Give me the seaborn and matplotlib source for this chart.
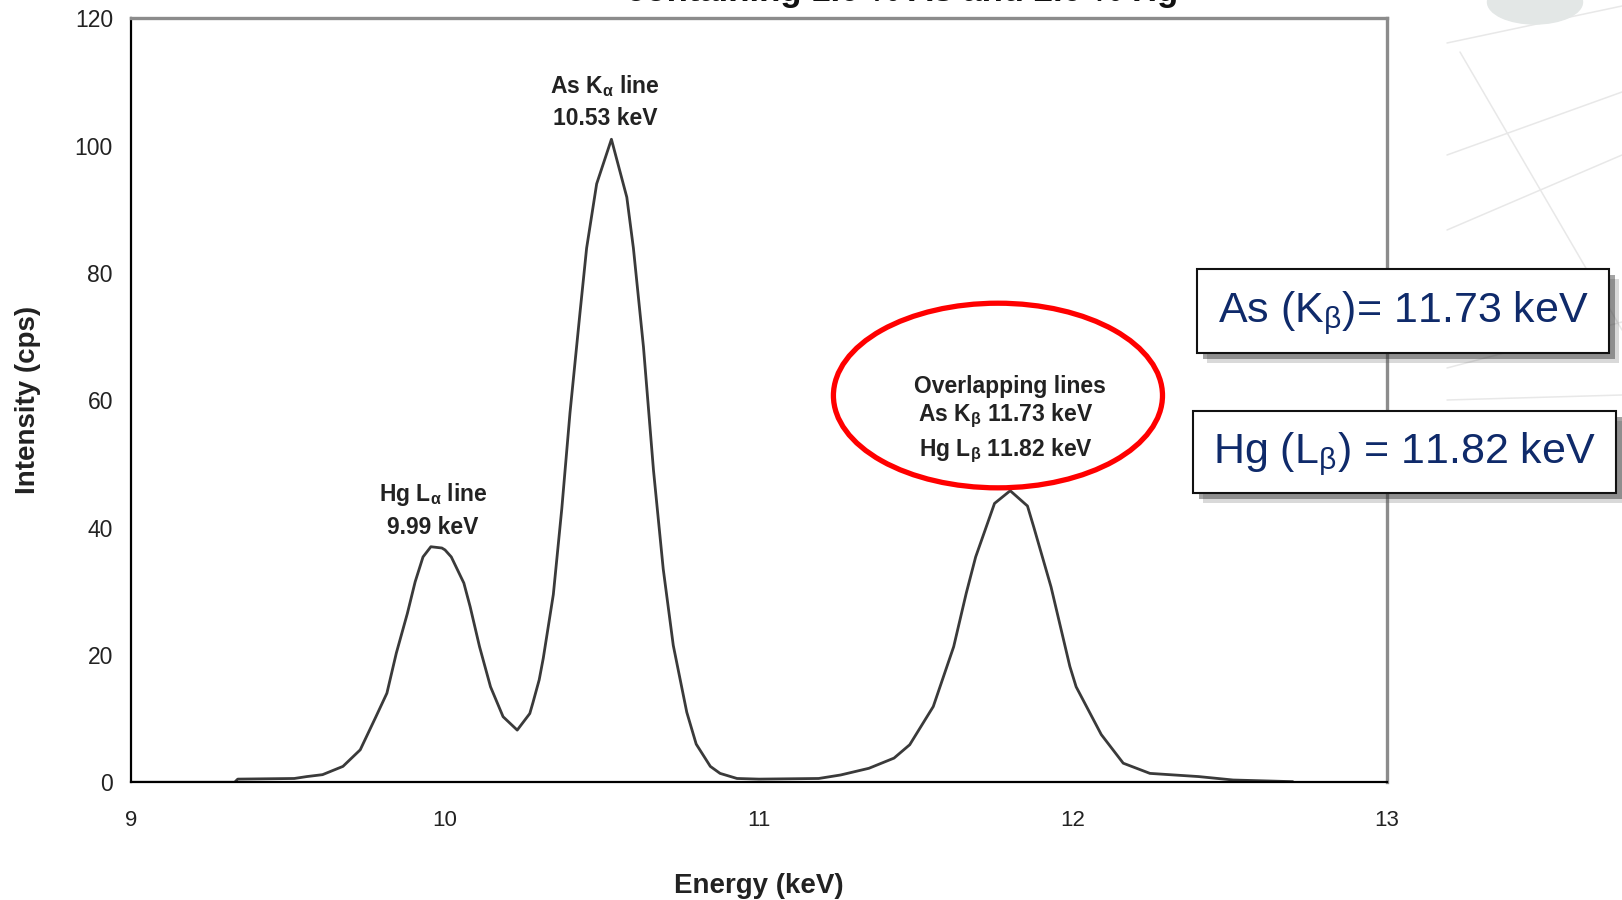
"""
plot.py - XRF spectrum showing the As K-alpha / Hg L-alpha peaks and the
overlapping As K-beta / Hg L-beta lines near 11.8 keV.

    python plot.py   ->  out.png
"""

import matplotlib

matplotlib.use("Agg")

import matplotlib.patches as mpatches
import matplotlib.patheffects as pe
import matplotlib.pyplot as plt
import pandas as pd
import seaborn as sns
from matplotlib.lines import Line2D

# ─────────────────────────────────────────────────────────────────────────────
# Data
# ─────────────────────────────────────────────────────────────────────────────
energy_kev = [
    9.00, 9.33, 9.34, 9.52, 9.56, 9.61, 9.675, 9.73, 9.78, 9.815,
    9.845, 9.88, 9.905, 9.93, 9.955, 9.99, 10.00, 10.02, 10.06, 10.08,
    10.11, 10.145, 10.185, 10.23, 10.27, 10.28, 10.30, 10.313, 10.345, 10.372,
    10.398, 10.43, 10.451, 10.483, 10.53, 10.579, 10.60, 10.632, 10.664, 10.695,
    10.727, 10.77, 10.80, 10.845, 10.876, 10.93, 11.00, 11.19, 11.26, 11.35,
    11.43, 11.48, 11.555, 11.62, 11.66, 11.69, 11.72, 11.75, 11.80, 11.855,
    11.875, 11.93, 11.99, 12.01, 12.09, 12.16, 12.245, 12.40, 12.51, 12.70,
]
intensity_cps = [
    0.0, 0.0, 0.5, 0.6, 0.9, 1.2, 2.5, 5.1, 10.3, 14.0,
    20.3, 26.5, 31.5, 35.4, 37.0, 36.8, 36.5, 35.4, 31.3, 27.6,
    21.3, 15.0, 10.3, 8.2, 10.8, 12.5, 16.1, 19.5, 29.5, 43.0,
    58.0, 73.8, 83.9, 94.0, 101.0, 91.9, 83.9, 68.4, 49.0, 33.5,
    21.5, 11.0, 6.0, 2.5, 1.4, 0.6, 0.5, 0.6, 1.15, 2.2,
    3.8, 5.9, 11.9, 21.3, 29.7, 35.4, 39.6, 43.8, 45.8, 43.4,
    40.1, 30.7, 18.2, 15.0, 7.5, 3.0, 1.4, 0.9, 0.36, 0.1,
]

x_ticks = [9, 10, 11, 12, 13]
y_ticks = [0, 20, 40, 60, 80, 100, 120]

# peak labels: (text, energy, intensity)
peak_notes = [
    (r"As K$_\mathbf{α}$ line", 10.51, 109.3),
    ("10.53 keV", 10.51, 104.3),
    (r"Hg L$_\mathbf{α}$ line", 9.962, 45.2),
    ("9.99 keV", 9.962, 40.0),
    ("Overlapping lines", 11.80, 62.1),
    (r"As K$_\mathbf{β}$ 11.73 keV", 11.785, 57.6),
    (r"Hg L$_\mathbf{β}$ 11.82 keV", 11.785, 52.0),
]

callouts = [
    r"As (K$_\mathrm{β}$)= 11.73 keV",
    r"Hg (L$_\mathrm{β}$) = 11.82 keV",
]

TITLE_TAIL = "containing 1.0 % As and 2.0 % Hg"

NAVY = "#0f2a6a"
INK = "#222222"

# ─────────────────────────────────────────────────────────────────────────────
# Style
# ─────────────────────────────────────────────────────────────────────────────
sns.set_style("white")
plt.rcParams["font.family"] = ["Liberation Sans", "DejaVu Sans"]
plt.rcParams["mathtext.fontset"] = "custom"
plt.rcParams["mathtext.rm"] = "Liberation Sans"
plt.rcParams["mathtext.it"] = "Liberation Sans:italic"
plt.rcParams["mathtext.bf"] = "Liberation Sans:bold"

fig = plt.figure(figsize=(16.22, 9.0), dpi=100)
fig.patch.set_facecolor("white")

# faint slide background lines on the right edge
bg_lines = [
    ((1447, 43), (1622, 6)),
    ((1447, 155), (1622, 92)),
    ((1447, 230), (1622, 155)),
    ((1460, 52), (1622, 330)),
    ((1447, 368), (1622, 322)),
    ((1447, 400), (1622, 395)),
]
for (x0, y0), (x1, y1) in bg_lines:
    fig.add_artist(Line2D([x0 / 1622, x1 / 1622], [1 - y0 / 900, 1 - y1 / 900],
                          transform=fig.transFigure, color="#e8e8e8", lw=1.1,
                          zorder=0))
fig.add_artist(mpatches.Ellipse((1535 / 1622, 1 - 2 / 900), 95 / 1622, 44 / 900,
                                transform=fig.transFigure, color="#e3e7e6",
                                zorder=0))

ax = fig.add_axes([131 / 1622, 1 - 782.3 / 900, 1256 / 1622, 764 / 900])

df = pd.DataFrame({"Energy": energy_kev, "Intensity": intensity_cps})
sns.lineplot(data=df, x="Energy", y="Intensity", estimator=None,
             color="#3a3a3a", lw=2.0, ax=ax)

ax.set_xlim(9, 13)
ax.set_ylim(0, 120)
ax.set_xticks(x_ticks)
ax.set_yticks(y_ticks)
ax.tick_params(axis="x", direction="out", length=6, width=1.2, color="black",
               pad=14, labelsize=16, labelcolor=INK)
ax.tick_params(axis="y", direction="out", length=6, width=1.2, color="black",
               pad=7, labelsize=16.5, labelcolor=INK)

for side in ["left", "bottom"]:
    ax.spines[side].set_color("black")
    ax.spines[side].set_linewidth(1.6)
for side in ["top", "right"]:
    ax.spines[side].set_visible(True)
    ax.spines[side].set_color("#8c8c8c")
    ax.spines[side].set_linewidth(2.4)

ax.set_xlabel("Energy (keV)", fontsize=20, fontweight="bold", color=INK,
              labelpad=30)
ax.set_ylabel("Intensity (cps)", fontsize=20, fontweight="bold", color=INK,
              labelpad=24)

for text, x, y in peak_notes:
    ax.text(x, y, text, ha="center", va="center", fontsize=16.5,
            fontweight="bold", color=INK)

ax.add_patch(mpatches.Ellipse((11.761, 60.75), width=1.048, height=29.0,
                              fill=False, edgecolor="#ff0000", lw=3.8,
                              zorder=5))

# title tail, clipped at the very top of the slide as in the source
fig.text(902 / 1622, 1 - 1 / 900, TITLE_TAIL, ha="center", va="baseline",
         fontsize=25, fontweight="bold", color="#111111")

# ─────────────────────────────────────────────────────────────────────────────
# Callout boxes with drop shadows
# ─────────────────────────────────────────────────────────────────────────────
boxes = [(1197, 269, 412, 84), (1193, 411, 423, 82)]
for (bx, by, bw, bh), label in zip(boxes, callouts):
    rect = mpatches.Rectangle((bx / 1622, 1 - (by + bh) / 900), bw / 1622,
                              bh / 900, transform=fig.transFigure,
                              facecolor="white", edgecolor="#111111", lw=1.5,
                              zorder=10)
    rect.set_path_effects([
        pe.SimplePatchShadow(offset=(7, -7), shadow_rgbFace="#555555", alpha=0.22),
        pe.SimplePatchShadow(offset=(4, -4), shadow_rgbFace="#333333", alpha=0.45),
        pe.Normal(),
    ])
    fig.add_artist(rect)
    fig.text((bx + bw / 2) / 1622, 1 - (by + bh / 2 + 2) / 900, label,
             ha="center", va="center", fontsize=31, color=NAVY, zorder=11)

fig.savefig("out.png", dpi=100)
